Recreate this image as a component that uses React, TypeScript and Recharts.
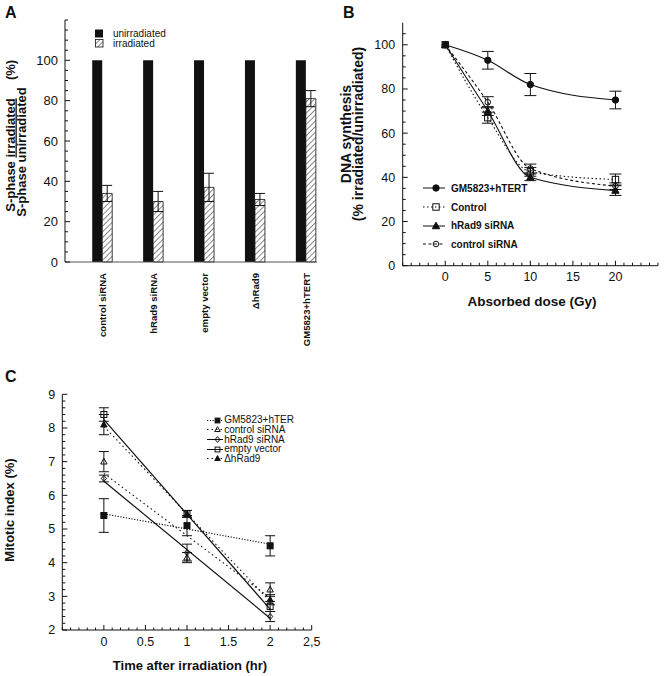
import React from 'react';
import {
  BarChart,
  Bar,
  ComposedChart,
  Line,
  Scatter,
  XAxis,
  YAxis,
  ErrorBar,
  Legend
} from 'recharts';

const FONT = '"Liberation Sans", Arial, Helvetica, sans-serif';
const INK = '#111';

// ---------- Panel A: S-phase ratio ----------
const aCategories = ['control siRNA', 'hRad9 siRNA', 'empty vector', 'ΔhRad9', 'GM5823+hTERT'];
const aUnirradiated = [100, 100, 100, 100, 100];
const aIrradiated = [34, 30, 37, 31, 81];
const aIrradiatedErr = [4, 5, 7, 3, 4];
const aYLabels = [0, 20, 40, 60, 80, 100];

// ---------- Panel B: DNA synthesis vs dose ----------
const bDoses = [0, 5, 10, 20];
const bGM = [100, 93, 82, 75];
const bGMErr = [0, 4, 5, 4];
const bControl = [100, 67, 42.5, 39];
const bControlErr = [0, 2.5, 2, 2.5];
const bHRad9 = [100, 70, 40, 34];
const bHRad9Err = [0, 2, 1.5, 2.2];
const bCtrlSi = [100, 74, 44, 36];
const bCtrlSiErr = [0, 2.5, 2, 1.5];
const bXLabels = [0, 5, 10, 15, 20];
const bYLabels = [0, 20, 40, 60, 80, 100];

// ---------- Panel C: mitotic index vs time ----------
const cTimes = [0, 1, 2];
const cGM = [5.4, 5.1, 4.5];
const cGMErr = [0.5, 0.3, 0.3];
const cCtrlSi = [7.0, 4.15, 3.2];
const cCtrlSiErr = [0.3, 0.15, 0.2];
const cHRad9 = [6.5, 4.3, 2.4];
const cHRad9Err = [0.1, 0.25, 0.15];
const cEmpty = [8.4, 5.45, 2.7];
const cEmptyErr = [0.2, 0.1, 0.15];
const cDelta = [8.1, 5.45, 2.9];
const cDeltaErr = [0.3, 0.1, 0.15];
// fitted lines, end points at t = 0 and t = 2
const cFitTimes = [0, 2];
const cGMFit = [5.45, 4.55];
const cCtrlSiFit = [6.65, 2.95];
const cHRad9Fit = [6.42, 2.35];
const cEmptyFit = [8.25, 2.62];
const cDeltaFit = [8.05, 2.85];
const cXLabelValues = [0, 0.5, 1, 1.5, 2, 2.5];
const cXLabels = ['0', '0.5', '1', '1.5', '2', '2,5'];
const cYLabels = [2, 3, 4, 5, 6, 7, 8, 9];

const range = (a: number, b: number, step: number) => {
  const n = Math.round((b - a) / step);
  const out: number[] = [];
  for (let i = 0; i <= n; i++) out.push(Math.round((a + i * step) * 1000) / 1000);
  return out;
};
const isIn = (list: number[], v: number) => list.some((m) => Math.abs(m - v) < 1e-6);

type Kind = 'circle' | 'square' | 'triangle' | 'diamond';

const Mark = ({ cx, cy, kind, filled, r = 3 }: { cx: number; cy: number; kind: Kind; filled: boolean; r?: number }) => {
  if (cx == null || cy == null) return null;
  const fill = filled ? INK : 'none';
  const common = { fill, stroke: INK, strokeWidth: 1 };
  if (kind === 'circle') return <circle cx={cx} cy={cy} r={r} {...common} />;
  if (kind === 'square') return <rect x={cx - r} y={cy - r} width={2 * r} height={2 * r} {...common} />;
  if (kind === 'triangle')
    return <polygon points={`${cx},${cy - r * 1.2} ${cx + r * 1.15},${cy + r * 0.85} ${cx - r * 1.15},${cy + r * 0.85}`} {...common} />;
  return <polygon points={`${cx},${cy - r * 1.2} ${cx + r},${cy} ${cx},${cy + r * 1.2} ${cx - r},${cy}`} {...common} />;
};

// ticks drawn inward; with tickSize=0 and tickMargin=0 the props x/y sit on the axis line
const leftTick = (labels: number[], fmt: (v: number) => string, size: number, gap: number, maj = 5, min = 3) =>
  (p: any) => {
    const v = p.payload.value;
    const major = isIn(labels, v);
    return (
      <g>
        <line x1={p.x} x2={p.x + (major ? maj : min)} y1={p.y} y2={p.y} stroke={INK} />
        {major && (
          <text x={p.x - gap} y={p.y} dy="0.35em" textAnchor="end" fontSize={size} fontFamily={FONT} fill={INK}>
            {fmt(v)}
          </text>
        )}
      </g>
    );
  };

const bottomTick = (labels: number[], fmt: (v: number) => string, size: number, gap: number, maj = 5, min = 3) =>
  (p: any) => {
    const v = p.payload.value;
    const major = isIn(labels, v);
    return (
      <g>
        <line x1={p.x} x2={p.x} y1={p.y} y2={p.y - (major ? maj : min)} stroke={INK} />
        {major && (
          <text x={p.x} y={p.y + gap} dy="0.35em" textAnchor="middle" fontSize={size} fontFamily={FONT} fill={INK}>
            {fmt(v)}
          </text>
        )}
      </g>
    );
  };

const CategoryTick = (p: any) => (
  <text
    transform={`translate(${p.x},${p.y + 11}) rotate(-90)`}
    dy="0.35em"
    textAnchor="end"
    fontSize={9.6}
    fontWeight="bold"
    fontFamily={FONT}
    fill={INK}
  >
    {aCategories[p.payload.value - 1]}
  </text>
);

const HatchSquare = ({ id }: { id: string }) => (
  <svg width={9} height={9} style={{ display: 'block' }}>
    <defs>
      <pattern id={id} width="3.5" height="3.5" patternUnits="userSpaceOnUse" patternTransform="rotate(45)">
        <line x1="0" y1="0" x2="0" y2="3.5" stroke={INK} strokeWidth="1" />
      </pattern>
    </defs>
    <rect x={0.5} y={0.5} width={7.5} height={7.5} fill={`url(#${id})`} stroke={INK} strokeWidth={0.8} />
  </svg>
);

const PanelA = () => {
  const data = aCategories.map((name, i) => ({
    pos: i + 1,
    name,
    unirr: aUnirradiated[i],
    irr: aIrradiated[i],
    err: aIrradiatedErr[i]
  }));
  const legendA = () => (
    <div style={{ fontFamily: FONT, fontSize: 10, color: INK }}>
      <div style={{ display: 'flex', alignItems: 'center', height: 10 }}>
        <svg width={9} height={9} style={{ display: 'block' }}>
          <rect x={0} y={0.5} width={8} height={8} fill={INK} />
        </svg>
        <span style={{ marginLeft: 9 }}>unirradiated</span>
      </div>
      <div style={{ display: 'flex', alignItems: 'center', height: 10 }}>
        <HatchSquare id="hatchLegend" />
        <span style={{ marginLeft: 9 }}>irradiated</span>
      </div>
    </div>
  );
  return (
    <BarChart width={330} height={355} data={data} margin={{ top: 20, right: 13, bottom: 13, left: 25 }} barGap={0}>
      <defs>
        <pattern id="hatchA" width="4" height="4" patternUnits="userSpaceOnUse" patternTransform="rotate(45)">
          <line x1="0" y1="0" x2="0" y2="4" stroke={INK} strokeWidth="1" />
        </pattern>
      </defs>
      <XAxis
        dataKey="pos"
        type="number"
        domain={[0.26, 5.21]}
        ticks={[1, 2, 3, 4, 5]}
        interval={0}
        height={80}
        tickSize={0}
        tickMargin={0}
        tickLine={false}
        axisLine={{ stroke: '#555' }}
        tick={CategoryTick}
      />
      <YAxis
        type="number"
        domain={[0, 120]}
        ticks={range(0, 120, 5)}
        interval={0}
        width={40}
        tickSize={0}
        tickMargin={0}
        tickLine={false}
        axisLine={{ stroke: INK }}
        tick={leftTick(aYLabels, (v) => String(v), 13, 7)}
        label={() => (
          <g fontFamily={FONT} fontWeight="bold" fontSize={13} fill={INK}>
            <text transform="translate(14.5,155) rotate(-90)" textAnchor="middle">
              S-phase <tspan textDecoration="underline">irradiated</tspan>
            </text>
            <text transform="translate(14.5,70) rotate(-90)" textAnchor="middle">(%)</text>
            <text transform="translate(25.6,152) rotate(-90)" textAnchor="middle">S-phase unirradiated</text>
          </g>
        )}
      />
      <Bar dataKey="unirr" fill={INK} barSize={10} isAnimationActive={false} />
      <Bar dataKey="irr" fill="url(#hatchA)" stroke={INK} strokeWidth={0.8} barSize={10} isAnimationActive={false}>
        <ErrorBar dataKey="err" direction="y" width={5} stroke={INK} strokeWidth={1} />
      </Bar>
      <Legend
        layout="vertical"
        align="center"
        verticalAlign="middle"
        content={legendA}
        wrapperStyle={{ left: 95, top: 28.3, width: 120, height: 20 }}
      />
    </BarChart>
  );
};

interface SeriesDef {
  name: string;
  values: number[];
  errs: number[];
  kind: Kind;
  filled: boolean;
  dash?: string;
  r: number;
}

const bSeries: SeriesDef[] = [
  { name: 'GM5823+hTERT', values: bGM, errs: bGMErr, kind: 'circle', filled: true, r: 3.2 },
  { name: 'Control', values: bControl, errs: bControlErr, kind: 'square', filled: false, dash: '1.5 2.5', r: 3.2 },
  { name: 'hRad9 siRNA', values: bHRad9, errs: bHRad9Err, kind: 'triangle', filled: true, r: 3.2 },
  { name: 'control siRNA', values: bCtrlSi, errs: bCtrlSiErr, kind: 'circle', filled: false, dash: '3 2.5', r: 2.8 }
];

const PanelB = () => {
  const legendB = () => (
    <div style={{ fontFamily: FONT, fontSize: 10, fontWeight: 'bold', color: INK }}>
      {bSeries.map((s) => (
        <div key={s.name} style={{ display: 'flex', alignItems: 'center', height: 18.7 }}>
          <svg width={23} height={10} style={{ display: 'block' }}>
            <line x1={0} x2={22} y1={5} y2={5} stroke={INK} strokeDasharray={s.dash} />
            <Mark cx={13} cy={5} kind={s.kind} filled={s.filled} r={s.r} />
          </svg>
          <span style={{ marginLeft: 5 }}>{s.name}</span>
        </div>
      ))}
    </div>
  );
  return (
    <ComposedChart width={334} height={320} margin={{ top: 22.7, right: 6, bottom: 24.3, left: 22.7 }}>
      <XAxis
        dataKey="x"
        type="number"
        domain={[-5, 25]}
        ticks={range(-5, 25, 1)}
        interval={0}
        height={30}
        tickSize={0}
        tickMargin={0}
        tickLine={false}
        axisLine={{ stroke: INK }}
        tick={bottomTick(bXLabels, (v) => String(v), 12.5, 11)}
        label={() => (
          <text x={202} y={306} textAnchor="middle" fontFamily={FONT} fontWeight="bold" fontSize={13.5} fill={INK}>
            Absorbed dose (Gy)
          </text>
        )}
      />
      <YAxis
        type="number"
        domain={[0, 110]}
        ticks={range(0, 105, 5)}
        interval={0}
        width={50}
        tickSize={0}
        tickMargin={0}
        tickLine={false}
        axisLine={{ stroke: INK }}
        tick={leftTick(bYLabels, (v) => String(v), 12.5, 7.5)}
        label={() => (
          <g fontFamily={FONT} fontWeight="bold" fontSize={14} fill={INK}>
            <text transform="translate(21,134) rotate(-90)" textAnchor="middle">DNA synthesis</text>
            <text transform="translate(32.5,134) rotate(-90)" textAnchor="middle">(% irradiated/unirradiated)</text>
          </g>
        )}
      />
      {bSeries.map((s) => (
        <Line
          key={s.name}
          data={bDoses.map((x, i) => ({ x, y: s.values[i], err: s.errs[i] }))}
          dataKey="y"
          type="monotone"
          stroke={INK}
          strokeWidth={1.1}
          strokeDasharray={s.dash}
          isAnimationActive={false}
          dot={(p: any) => <Mark key={`${s.name}-${p.index}`} cx={p.cx} cy={p.cy} kind={s.kind} filled={s.filled} r={s.r} />}
          activeDot={false}
        >
          <ErrorBar dataKey="err" direction="y" width={6} stroke={INK} strokeWidth={1} />
        </Line>
      ))}
      <Legend
        layout="vertical"
        align="center"
        verticalAlign="middle"
        content={legendB}
        wrapperStyle={{ left: 93, top: 179, width: 140, height: 76 }}
      />
    </ComposedChart>
  );
};

interface FitDef extends SeriesDef {
  fit: number[];
}

const cSeries: FitDef[] = [
  { name: 'GM5823+hTER', values: cGM, errs: cGMErr, fit: cGMFit, kind: 'square', filled: true, dash: '1.2 1.6', r: 3 },
  { name: 'control siRNA', values: cCtrlSi, errs: cCtrlSiErr, fit: cCtrlSiFit, kind: 'triangle', filled: false, dash: '1.5 3', r: 2.8 },
  { name: 'hRad9 siRNA', values: cHRad9, errs: cHRad9Err, fit: cHRad9Fit, kind: 'diamond', filled: false, r: 2.6 },
  { name: 'empty vector', values: cEmpty, errs: cEmptyErr, fit: cEmptyFit, kind: 'square', filled: false, r: 3 },
  { name: 'ΔhRad9', values: cDelta, errs: cDeltaErr, fit: cDeltaFit, kind: 'triangle', filled: true, dash: '1.5 3', r: 2.8 }
];

const PanelC = () => {
  const legendC = () => (
    <div style={{ fontFamily: FONT, fontSize: 10, color: INK }}>
      {cSeries.map((s) => (
        <div key={s.name} style={{ display: 'flex', alignItems: 'center', height: 9.7, lineHeight: '9.7px' }}>
          <svg width={16} height={9} style={{ display: 'block' }}>
            <line x1={0} x2={16} y1={4.5} y2={4.5} stroke={INK} strokeDasharray={s.dash} />
            <Mark cx={10.5} cy={4.5} kind={s.kind} filled={s.filled} r={2.4} />
          </svg>
          <span style={{ marginLeft: 1.5 }}>{s.name}</span>
        </div>
      ))}
    </div>
  );
  return (
    <ComposedChart width={340} height={316} margin={{ top: 34.3, right: 28.3, bottom: 16, left: 22.3 }}>
      <XAxis
        dataKey="x"
        type="number"
        domain={[-0.5, 2.5]}
        ticks={range(-0.5, 2.5, 0.1)}
        interval={0}
        height={30}
        tickSize={0}
        tickMargin={0}
        tickLine={false}
        axisLine={{ stroke: INK }}
        tick={bottomTick(cXLabelValues, (v) => cXLabels[cXLabelValues.findIndex((m) => Math.abs(m - v) < 1e-6)], 12.5, 11.7, 5, 2.5)}
        label={() => (
          <text x={190} y={310} textAnchor="middle" fontFamily={FONT} fontWeight="bold" fontSize={13} fill={INK}>
            Time after irradiation (hr)
          </text>
        )}
      />
      <YAxis
        type="number"
        domain={[2, 9]}
        ticks={range(2, 9, 0.2)}
        interval={0}
        width={40}
        tickSize={0}
        tickMargin={0}
        tickLine={false}
        axisLine={{ stroke: INK }}
        tick={leftTick(cYLabels, (v) => String(v), 12.5, 7)}
        label={() => (
          <text
            transform="translate(14,150) rotate(-90)"
            textAnchor="middle"
            fontFamily={FONT}
            fontWeight="bold"
            fontSize={13}
            fill={INK}
          >
            Mitotic index (%)
          </text>
        )}
      />
      {cSeries.map((s) => (
        <Line
          key={`fit-${s.name}`}
          data={cFitTimes.map((x, i) => ({ x, y: s.fit[i] }))}
          dataKey="y"
          type="linear"
          stroke={INK}
          strokeWidth={s.dash ? 1.1 : 1.2}
          strokeDasharray={s.dash}
          dot={false}
          activeDot={false}
          isAnimationActive={false}
        />
      ))}
      {cSeries.map((s) => (
        <Scatter
          key={`pts-${s.name}`}
          data={cTimes.map((x, i) => ({ x, y: s.values[i], err: s.errs[i] }))}
          dataKey="y"
          isAnimationActive={false}
          shape={(p: any) => <Mark cx={p.cx} cy={p.cy} kind={s.kind} filled={s.filled} r={s.r} />}
        >
          <ErrorBar dataKey="err" direction="y" width={5} stroke={INK} strokeWidth={1} />
        </Scatter>
      ))}
      <Legend
        layout="vertical"
        align="center"
        verticalAlign="middle"
        content={legendC}
        wrapperStyle={{ left: 206.7, top: 55.2, width: 110, height: 50 }}
      />
    </ComposedChart>
  );
};

const panelLetter = (ch: string, left: number, top: number) => (
  <div
    style={{
      position: 'absolute',
      left,
      top,
      fontFamily: FONT,
      fontWeight: 'bold',
      fontSize: 16,
      lineHeight: '16px',
      color: INK
    }}
  >
    {ch}
  </div>
);

// absolutely placed at the page origin so nothing is clipped by #root or the body margin
const App: React.FC = () => (
  <div style={{ position: 'absolute', left: 0, top: 0, width: 664, height: 676, background: '#fff', overflow: 'hidden' }}>
    <div style={{ position: 'absolute', left: 0, top: 0 }}>
      <PanelA />
    </div>
    <div style={{ position: 'absolute', left: 330, top: 0 }}>
      <PanelB />
    </div>
    <div style={{ position: 'absolute', left: 0, top: 360 }}>
      <PanelC />
    </div>
    {panelLetter('A', 5, 4.5)}
    {panelLetter('B', 343, 4.5)}
    {panelLetter('C', 5, 368.5)}
  </div>
);

export default App;
